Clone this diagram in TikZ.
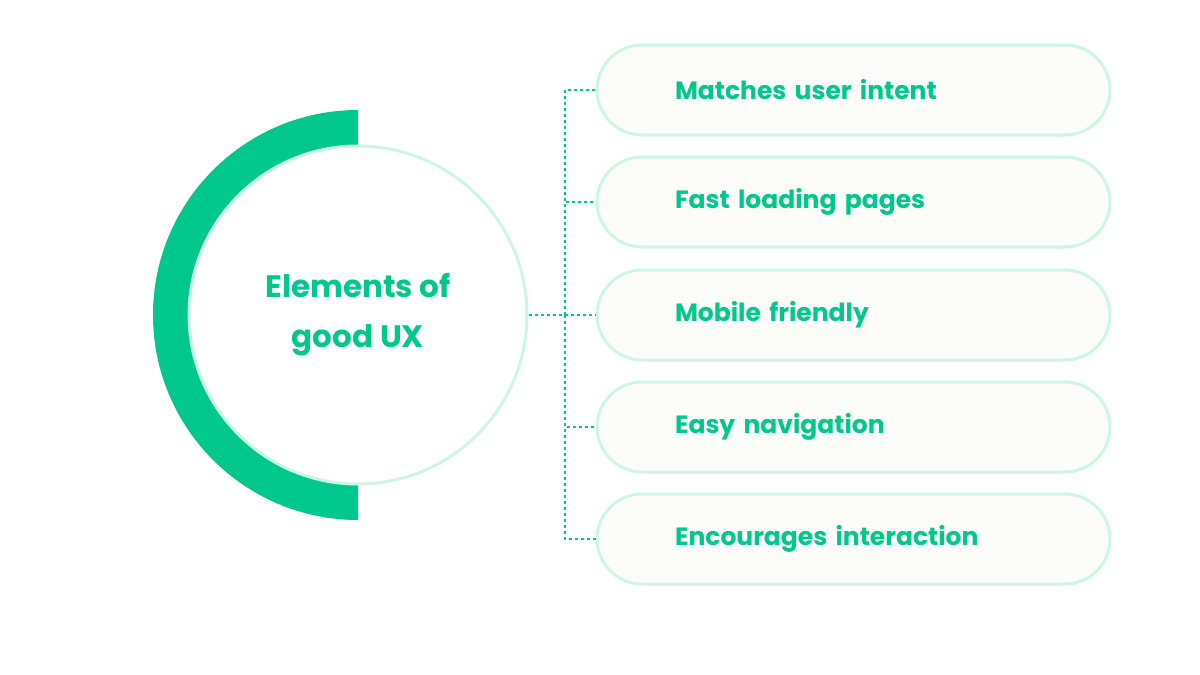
\documentclass[tikz,border=0pt]{standalone}
\usepackage{fontspec}
\setmainfont{Poppins}
\usetikzlibrary{positioning}
\definecolor{uxgreen}{RGB}{0,200,140}
\definecolor{uxline}{RGB}{205,245,230}
\definecolor{uxfill}{RGB}{252,253,248}
\begin{document}
\begin{tikzpicture}[
  x=1pt, y=-1pt,
  pill/.style={rectangle, draw=uxline, line width=3pt, fill=uxfill, rounded corners=45pt,
               minimum width=513pt, minimum height=90pt, text width=357pt, align=left,
               font=\fontsize{25}{30}\selectfont\bfseries, text=uxgreen},
  link/.style={draw=uxgreen, dashed, line width=1.1pt}
]
\useasboundingbox (0,0) rectangle (1200,675);

% Ring and hub
\fill[uxgreen] (358,110) arc (-90:-270:205) -- (358,485) arc (90:270:170) -- cycle;
\node[circle, draw=uxline, line width=3pt, fill=white, minimum size=338pt,
      align=center, text=uxgreen, font=\fontsize{31}{50}\selectfont\bfseries]
      (hub) at (358,315) {Elements of\\good UX};

% Items
\node[pill] (i1) at (853.5,90) {Matches user intent};
\node[pill] (i2) at (853.5,202) {Fast loading pages};
\node[pill] (i3) at (853.5,315) {Mobile friendly};
\node[pill] (i4) at (853.5,427) {Easy navigation};
\node[pill] (i5) at (853.5,539) {Encourages interaction};

% Connectors
\coordinate (bus) at (565,315);
\draw[link] (hub.east) -- (bus);
\foreach \n in {i1,i2,i3,i4,i5}
  \draw[link] (bus) |- (\n.west);
\end{tikzpicture}
\end{document}
